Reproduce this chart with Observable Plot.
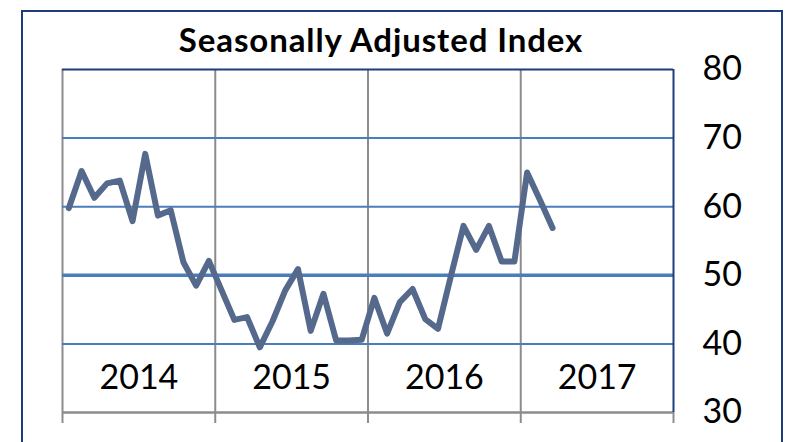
<!DOCTYPE html>
<html><head><meta charset="utf-8">
<script src="https://cdn.jsdelivr.net/npm/d3@7"></script>
<script src="https://cdn.jsdelivr.net/npm/@observablehq/plot@0.6"></script>
<style>
body{margin:0;background:#fff;}
#wrap{position:relative;width:794px;height:442px;overflow:hidden;background:#fff;}
#frame{position:absolute;left:21px;top:10px;width:762px;height:470px;border:2px solid #1f3d7a;box-sizing:border-box;}
#title{position:absolute;left:0;width:762px;top:23px;text-align:center;font:bold 33px Lato;letter-spacing:0.9px;line-height:33px;color:#000;}
#chart{position:absolute;left:0;top:0;}
</style>
</head><body>
<div id="wrap"><div id="frame"></div><div id="title">Seasonally Adjusted Index</div><div id="chart"></div></div>
<script>
const years = ["2014", "2015", "2016", "2017"];
const monthsPerYear = 12;
const values = [
  59.8, 65.2, 61.3, 63.4, 63.8, 57.9, 67.7, 58.7, 59.5, 51.9, 48.5, 52.1,
  47.8, 43.5, 43.9, 39.5, 43.3, 47.8, 50.9, 41.9, 47.3, 40.5, 40.5, 40.6,
  46.7, 41.5, 46.1, 48.0, 43.6, 42.2, 49.8, 57.2, 53.7, 57.2, 52.0, 52.0,
  65.0, 61.0, 56.9
];
const yTicks = [30, 40, 50, 60, 70, 80];
const thinGrid = [40, 60, 70];
const midLine = [50];
const yearLabelValue = 35;

const data = values.map((v, i) => ({t: i + 0.5, v}));
const yearBounds = d3.range(0, years.length + 1).map(i => i * monthsPerYear);
const yearLabels = years.map((y, i) => ({x: i * monthsPerYear + monthsPerYear / 2, label: y}));
const xMax = years.length * monthsPerYear;
const yMin = yTicks[0], yMax = yTicks[yTicks.length - 1];

const gray = "#8c8c8c", blue = "#4a7ebb", navy = "#1f3d7a", lineColor = "#55698d";

const chart = Plot.plot({
  width: 794,
  height: 442,
  marginLeft: 62,
  marginRight: 121,
  marginTop: 69,
  marginBottom: 30,
  style: {fontFamily: "Lato", fontSize: "34px", background: "transparent", color: "#000"},
  x: {domain: [0, xMax], axis: null},
  y: {domain: [yMin, yMax], axis: null},
  marks: [
    Plot.ruleX(yearBounds.slice(0, -1), {y1: yMin, y2: yMax, stroke: gray, strokeWidth: 2}),
    Plot.ruleX(yearBounds, {y1: yMin, y2: yMin - 1.6, stroke: gray, strokeWidth: 2}),
    Plot.ruleY(thinGrid, {x1: 0, x2: xMax, stroke: blue, strokeWidth: 2}),
    Plot.ruleY(midLine, {x1: 0, x2: xMax, stroke: blue, strokeWidth: 3.5}),
    Plot.ruleY([yMin], {x1: 0, x2: xMax, stroke: gray, strokeWidth: 2.5}),
    Plot.ruleY([yMax], {x1: 0, x2: xMax, stroke: navy, strokeWidth: 2}),
    Plot.ruleX([xMax], {y1: yMin, y2: yMax, stroke: navy, strokeWidth: 2}),
    Plot.text(yearLabels, {x: "x", y: yearLabelValue, text: "label", fontSize: 34, fill: "#000"}),
    Plot.line(data, {x: "t", y: "v", stroke: lineColor, strokeWidth: 6, strokeLinejoin: "round", strokeLinecap: "round"}),
    Plot.axisY({ticks: yTicks, anchor: "right", tickSize: 0, tickPadding: 29, label: null, fontSize: 34, fill: "#000"})
  ]
});
document.getElementById("chart").appendChild(chart);
</script>
</body></html>
